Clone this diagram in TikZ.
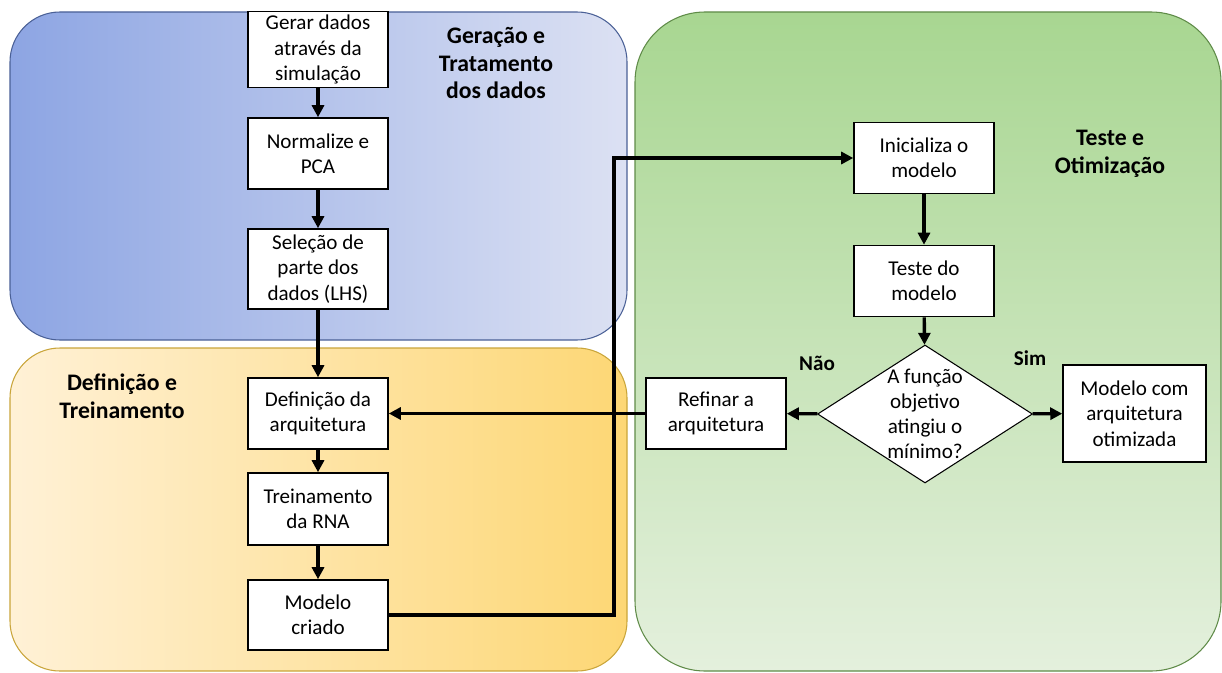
\documentclass[tikz,border=0pt]{standalone}
\usepackage{fontspec}
\setmainfont{Carlito}
\usepackage{tikz}
\usetikzlibrary{positioning,arrows.meta,shapes.geometric}
\definecolor{genleft}{HTML}{8DA5E3}
\definecolor{genright}{HTML}{DCE1F3}
\definecolor{genline}{HTML}{4A6096}
\definecolor{defleft}{HTML}{FFF1D6}
\definecolor{defright}{HTML}{FDD775}
\definecolor{defline}{HTML}{C9A53A}
\definecolor{testtop}{HTML}{A8D691}
\definecolor{testbot}{HTML}{E4F0DD}
\definecolor{testline}{HTML}{5F8B48}
\tikzset{
  stage/.style = {line width=0.6pt, rounded corners=1cm},
  proc/.style  = {draw=black, fill=white, line width=0.9pt, minimum width=2.8cm,
                  minimum height=1.42cm, align=center, inner sep=2pt,
                  font=\fontsize{12}{14.5}\selectfont},
  cond/.style  = {diamond, draw=black, fill=white, line width=0.6pt, aspect=1.56,
                  minimum width=4.3cm, minimum height=2.76cm, inner sep=-4pt,
                  align=center, font=\fontsize{12}{14.3}\selectfont},
  ttl/.style   = {font=\fontsize{13.5}{15.9}\selectfont\bfseries, align=center},
  ans/.style   = {font=\fontsize{12}{14}\selectfont\bfseries},
  flow/.style  = {-{Triangle[length=2.4mm,width=2.4mm]}, line width=1.9pt},
}

\begin{document}
\begin{tikzpicture}[x=0.02cm, y=-0.02cm]
    \useasboundingbox (0,0) rectangle (1222,672);
    \draw[stage, draw=genline, left color=genleft, right color=genright] (10,12) rectangle (627,340);
    \draw[stage, draw=defline, left color=defleft, right color=defright] (10,348) rectangle (627,671);
    \draw[stage, rounded corners=1.4cm, draw=testline, top color=testtop, bottom color=testbot] (635,12) rectangle (1221,671);
    \node[ttl] (tgen) at (496,63) {Geração e\\Tratamento\\dos dados};
    \node[ttl] (tdef) at (122,396) {Definição e\\Treinamento};
    \node[ttl] (ttest) at (1110,153.5) {Teste e\\Otimização};
    \foreach \i/\y/\h/\lab in {1/49.5/1.48/{Gerar dados\\através da\\simulação},
        2/153.5/1.42/{Normalize e\\PCA}, 3/269/1.6/{Seleção de\\parte dos\\dados (LHS)},
        4/413.5/1.42/{Definição da\\arquitetura}, 5/509/1.44/{Treinamento\\da RNA},
        6/615/1.4/{Modelo\\criado}}
      \node[proc, minimum height=\h cm] (s\i) at (318,\y) {\lab};
    \foreach \i/\j in {1/2,2/3,3/4,4/5,5/6} \draw[flow] (s\i) -- (s\j);
    \node[proc] (init) at (924,158) {Inicializa o\\modelo};
    \node[proc] (teste) at (924,281) {Teste do\\modelo};
    \node[cond] (obj) at (925,414) {A função\\objetivo\\atingiu o\\mínimo?};
    \node[proc] (refin) at (716,413.5) {Refinar a\\arquitetura};
    \node[proc, minimum width=2.86cm, minimum height=1.94cm] (otim) at (1134.5,413.5) {Modelo com\\arquitetura\\otimizada};
    \node[ans] (nao) at (817,363) {Não};
    \node[ans] (sim) at (1030,358) {Sim};
    \coordinate (bend) at (614,0);
    \draw[flow] (s6.east) -- (s6.east -| bend) |- (init.west);
    \draw[flow] (init) -- (teste);
    \draw[flow] (teste) -- (obj);
    \draw[flow] (obj) -- (refin);
    \draw[flow] (obj) -- (otim);
    \draw[flow] (refin) -- (s4);
  \end{tikzpicture}
\end{document}
